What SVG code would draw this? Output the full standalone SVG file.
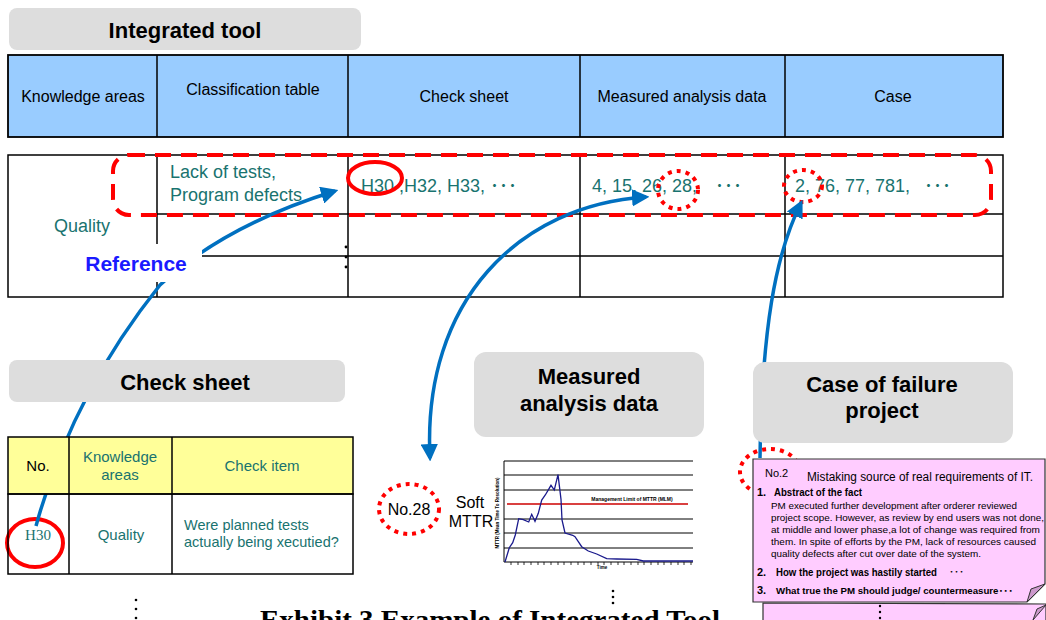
<svg xmlns="http://www.w3.org/2000/svg" width="1046" height="620" viewBox="0 0 1046 620">
<style>
.title{font-family:"Liberation Sans",Arial,sans-serif;font-weight:bold;font-size:22px;fill:#000;text-anchor:middle}
.tbox{fill:#dddddd;stroke:none}
.hdr{font-family:"Liberation Sans",Arial,sans-serif;font-size:16px;fill:#000;text-anchor:middle}
.cell{fill:none;stroke:#000;stroke-width:1.5}
.teal{font-family:"Liberation Sans",Arial,"Noto Sans CJK JP",sans-serif;fill:#19736f}
.red{fill:none;stroke:#ff0000;stroke-width:4}
.reddot{fill:none;stroke:#ff0000;stroke-width:4;stroke-dasharray:4 5}
.blue{fill:none;stroke:#0070c0;stroke-width:3.5}
.small{font-family:"Liberation Sans",Arial,"Noto Sans CJK JP",sans-serif;fill:#000}
.grid{stroke:#000;stroke-width:1}
</style>
<defs>
<marker id="ah" viewBox="0 0 10 10" refX="8" refY="5" markerWidth="5" markerHeight="5" orient="auto-start-reverse" markerUnits="strokeWidth">
<path d="M0,0 L10,5 L0,10 Z" fill="#0070c0"/>
</marker>
</defs>
<rect width="1046" height="620" fill="#fff"/>

<g id="integrated-tool-title">
<rect class="tbox" x="9" y="8" width="352" height="42" rx="8"/>
<text class="title" x="185" y="38">Integrated tool</text>
</g>

<g id="header-table">
<rect x="8" y="55" width="995" height="82" fill="#99ccff" stroke="#000" stroke-width="1.8"/>
<line class="cell" x1="157" y1="55" x2="157" y2="137"/>
<line class="cell" x1="348" y1="55" x2="348" y2="137"/>
<line class="cell" x1="580" y1="55" x2="580" y2="137"/>
<line class="cell" x1="785" y1="55" x2="785" y2="137"/>
<text class="hdr" x="83" y="102">Knowledge areas</text>
<text class="hdr" x="253" y="95">Classification table</text>
<text class="hdr" x="464" y="102">Check sheet</text>
<text class="hdr" x="682" y="102">Measured analysis data</text>
<text class="hdr" x="893" y="102">Case</text>
</g>

<g id="data-table">
<rect class="cell" x="8" y="155" width="995" height="142" fill="#fff"/>
<line class="cell" x1="157" y1="155" x2="157" y2="297"/>
<line class="cell" x1="348" y1="155" x2="348" y2="297"/>
<line class="cell" x1="580" y1="155" x2="580" y2="297"/>
<line class="cell" x1="785" y1="155" x2="785" y2="297"/>
<line class="cell" x1="157" y1="214" x2="1003" y2="214"/>
<line class="cell" x1="157" y1="256" x2="1003" y2="256"/>
<text class="teal" font-size="18" x="170" y="178">Lack of tests,</text>
<text class="teal" font-size="18" x="170" y="201">Program defects</text>
<text class="teal" font-size="18" x="54" y="232">Quality</text>
<text class="teal" font-size="18" x="361" y="192">H30 ,H32, H33, ･･･</text>
<text class="teal" font-size="18" x="592" y="192">4, 15, 26, 28, <tspan x="715">･･･</tspan></text>
<text class="teal" font-size="18" x="795" y="192">2, 76, 77, 781, <tspan x="924">･･･</tspan></text>
<g fill="#000"><circle cx="346" cy="247" r="1.4"/><circle cx="346" cy="257" r="1.4"/><circle cx="346" cy="267" r="1.4"/></g>
</g>

<g id="highlights">
<rect x="113" y="155" width="878" height="60" rx="16" fill="none" stroke="#ff0000" stroke-width="4" stroke-dasharray="16 10"/>
<ellipse class="red" cx="375" cy="178" rx="27" ry="16"/>
<ellipse class="reddot" cx="678" cy="190" rx="20" ry="19"/>
<ellipse class="reddot" cx="803" cy="186" rx="19" ry="16"/>
<ellipse class="red" cx="35" cy="543" rx="28" ry="24"/>
<ellipse class="reddot" cx="409" cy="509" rx="30" ry="25"/>
<ellipse class="reddot" cx="770" cy="472" rx="30" ry="23"/>
</g>

<g id="connectors">
<path class="blue" d="M36,526 Q72,395 160,285 Q225,225 335,191" marker-end="url(#ah)"/>
<path class="blue" d="M646,197 C520,205 422,300 430,458" marker-start="url(#ah)" marker-end="url(#ah)"/>
<path class="blue" d="M760,458 C762,330 775,255 801,203" marker-end="url(#ah)"/>
</g>

<g id="reference-label">
<rect x="74" y="244" width="128" height="38" fill="#fff"/>
<text x="136" y="271" font-family="Liberation Sans,Arial,sans-serif" font-weight="bold" font-size="21" fill="#1a1aff" text-anchor="middle">Reference</text>
</g>

<g id="check-sheet-title">
<rect class="tbox" x="9" y="360" width="336" height="42" rx="8"/>
<text class="title" x="185" y="390">Check sheet</text>
</g>

<g id="check-sheet-table">
<rect x="8" y="437" width="345" height="57" fill="#ffff99" stroke="#000" stroke-width="1.5"/>
<rect class="cell" x="8" y="494" width="345" height="80" fill="#fff"/>
<line class="cell" x1="69" y1="437" x2="69" y2="574"/>
<line class="cell" x1="172" y1="437" x2="172" y2="574"/>
<text class="small" font-size="15" x="38" y="471" text-anchor="middle">No.</text>
<text class="teal" font-size="15" x="120" y="462" text-anchor="middle">Knowledge</text>
<text class="teal" font-size="15" x="120" y="480" text-anchor="middle">areas</text>
<text class="teal" font-size="15" x="262" y="471" text-anchor="middle">Check item</text>
<text font-family="Liberation Serif,'Times New Roman',serif" font-size="15" fill="#19736f" x="38" y="540" text-anchor="middle">H30</text>
<text class="teal" font-size="15" x="121" y="540" text-anchor="middle">Quality</text>
<text class="teal" font-size="14.5" x="184" y="530">Were planned tests</text>
<text class="teal" font-size="14.5" x="184" y="547">actually being xecutied?</text>
<g fill="#000"><circle cx="136" cy="600" r="1.3"/><circle cx="136" cy="609" r="1.3"/><circle cx="136" cy="618" r="1.3"/></g>
</g>

<g id="measured-title">
<rect class="tbox" x="474" y="352" width="230" height="85" rx="12"/>
<text class="title" x="589" y="384">Measured</text>
<text class="title" x="589" y="411">analysis data</text>
</g>

<g id="mttr-chart">
<text class="small" font-size="16" x="409" y="515" text-anchor="middle">No.28</text>
<text class="small" font-size="16" x="470" y="508" text-anchor="middle">Soft</text>
<text class="small" font-size="16" x="471" y="527" text-anchor="middle">MTTR</text>
<g class="grid">
<line x1="504" y1="461" x2="693" y2="461"/>
<line x1="504" y1="475" x2="693" y2="475"/>
<line x1="504" y1="490" x2="693" y2="490"/>
<line x1="504" y1="519" x2="693" y2="519"/>
<line x1="504" y1="533" x2="693" y2="533"/>
<line x1="504" y1="548" x2="693" y2="548"/>
<line x1="504" y1="562" x2="693" y2="562"/>
<line x1="504" y1="461" x2="504" y2="562"/>
</g>
<line x1="507" y1="504" x2="688" y2="504" stroke="#cc0000" stroke-width="1.5"/>
<path d="M511,562v3M518,562v3M524,562v3M531,562v3M538,562v3M544,562v3M551,562v3M558,562v3M564,562v3M571,562v3M578,562v3M584,562v3M591,562v3M598,562v3M604,562v3M611,562v3M618,562v3M624,562v3M631,562v3M638,562v3M644,562v3M651,562v3M658,562v3M664,562v3M671,562v3M678,562v3M684,562v3M691,562v3" stroke="#000" stroke-width="0.8"/>
<polyline fill="none" stroke="#1a1a8c" stroke-width="1.3" points="505,562 509.3,547.7 512.7,542.7 515.3,535 518.7,518.7 523.3,519.7 528.7,522 531.7,514.3 535,521.3 538.3,513.3 541.7,500 545.3,495 551,485.3 554.3,490 558,474.7 561,499.3 562,520 565,533 572.7,535.3 575,536.7 581.7,546.7 588.3,551 596.7,554 606.7,558.7 616.7,559 636.7,559.3 643.3,561 693,561"/>
<text class="small" font-size="5" font-weight="bold" x="632" y="501" text-anchor="middle">Management Limit of MTTR (MLM)</text>
<text class="small" font-size="4.5" font-weight="bold" x="602" y="569" text-anchor="middle">Time</text>
<text class="small" font-size="4.5" font-weight="bold" transform="translate(499,513) rotate(-90)" text-anchor="middle">MTTR (Mean Time To Resolution)</text>
<g fill="#000"><circle cx="613" cy="591" r="1.3"/><circle cx="613" cy="597" r="1.3"/><circle cx="613" cy="603" r="1.3"/></g>
</g>

<g id="case-title">
<rect class="tbox" x="753" y="362" width="260" height="81" rx="12"/>
<text class="title" x="882" y="392">Case of failure</text>
<text class="title" x="882" y="418">project</text>
</g>

<g id="case-page">
<path d="M763,603 V622 H1046 V604 Z" fill="#ffccff" stroke="#333" stroke-width="1.2"/>
<polygon points="1033,620 1037,609 1046,605" fill="#cc99cc" stroke="#333" stroke-width="1"/>
<path d="M753,459 H1045 V584 L1027,602 H753 Z" fill="#ffccff" stroke="#333" stroke-width="1.2"/>
<polygon points="1027,602 1031,589 1045,584" fill="#cc99cc" stroke="#333" stroke-width="1"/>
<text class="small" font-size="11" x="765" y="477">No.2</text>
<text class="small" font-size="12" x="807" y="481" textLength="226" lengthAdjust="spacingAndGlyphs">Mistaking source of real requirements of IT.</text>
<text class="small" font-size="11" font-weight="bold" x="757" y="496">1.</text>
<text class="small" font-size="10" font-weight="bold" x="774" y="496" textLength="88" lengthAdjust="spacingAndGlyphs">Abstract of the fact</text>
<text class="small" font-size="9.8" x="771" y="509" textLength="246" lengthAdjust="spacingAndGlyphs">PM executed further development after orderer reviewed</text>
<text class="small" font-size="9.6" x="771" y="521" textLength="273" lengthAdjust="spacingAndGlyphs">project scope. However, as review by end users was not done,</text>
<text class="small" font-size="9.8" x="771" y="533" textLength="269" lengthAdjust="spacingAndGlyphs">at middle  and lower phase,a lot of change was required from</text>
<text class="small" font-size="9.8" x="771" y="545" textLength="265" lengthAdjust="spacingAndGlyphs">them. In spite of efforts by the PM, lack of  resources caused</text>
<text class="small" font-size="9.8" x="771" y="557" textLength="210" lengthAdjust="spacingAndGlyphs">quality defects after cut over date of the system.</text>
<text class="small" font-size="11" font-weight="bold" x="757" y="576">2.</text>
<text class="small" font-size="10" font-weight="bold" x="776" y="576" textLength="161" lengthAdjust="spacingAndGlyphs">How the project was hastily started</text>
<text class="small" font-size="10" x="949" y="576">･･･</text>
<text class="small" font-size="11" font-weight="bold" x="757" y="594">3.</text>
<text class="small" font-size="9.5" font-weight="bold" x="776" y="594" textLength="237" lengthAdjust="spacingAndGlyphs">What true the PM should judge/ countermeasure･･･</text>
<g fill="#000"><circle cx="880" cy="606" r="1.2"/><circle cx="880" cy="612" r="1.2"/><circle cx="880" cy="618" r="1.2"/></g>
</g>

<g id="caption">
<text x="260" y="629" font-family="Liberation Serif,'Times New Roman',serif" font-weight="bold" font-size="28" fill="#000" textLength="460" lengthAdjust="spacingAndGlyphs">Exhibit 3 Example of Integrated Tool</text>
</g>
</svg>
